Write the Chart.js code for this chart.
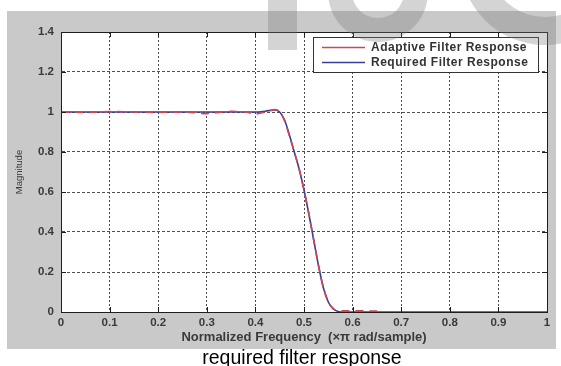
<!DOCTYPE html>
<html>
<head>
<meta charset="utf-8">
<title>required filter response</title>
<script src="https://cdn.jsdelivr.net/npm/chart.js@4.4.1/dist/chart.umd.min.js"></script>
<style>
  html, body { margin: 0; padding: 0; background: #fff; }
  #wrap { position: relative; width: 561px; height: 366px; }
  #caption {
    position: absolute; left: 0; width: 604px; top: 346px;
    text-align: center; color: #000; line-height: 23px;
    font-size: 19.5px; font-family: "Liberation Sans", Arial, sans-serif;
  }
</style>
</head>
<body>
<div id="wrap">
  <canvas id="resp" width="561" height="366"></canvas>
  <div id="caption">required filter response</div>
</div>
<script>
// ---- data -------------------------------------------------------------
const freq = [0, 0.05, 0.1, 0.15, 0.2, 0.25, 0.3, 0.35, 0.38, 0.4, 0.42, 0.44, 0.45,
  0.46, 0.47, 0.48, 0.49, 0.5, 0.51, 0.52, 0.53, 0.54, 0.55, 0.56, 0.57, 0.58,
  0.6, 0.65, 0.7, 0.8, 0.9, 1.0];
const requiredResp = [1, 1, 1, 1, 1, 1, 1, 1, 1, 1, 1.004, 1.01, 1.0,
  0.96, 0.885, 0.80, 0.715, 0.61, 0.49, 0.36, 0.23, 0.12, 0.05, 0.015, 0.003, 0,
  0, 0, 0, 0, 0, 0];
const adaptiveResp = [1.0, 0.998, 1.002, 1.0, 0.998, 1.0, 0.992, 1.003, 1.0, 0.99, 1.0, 1.012, 1.0,
  0.955, 0.88, 0.80, 0.715, 0.61, 0.49, 0.36, 0.23, 0.12, 0.052, 0.018, 0.006, 0.006,
  0.006, 0.005, null, null, null, null];
const seriesNames = ['Adaptive Filter Response', 'Required Filter Response'];
const seriesColors = ['#cf4650', '#3c3c96'];
const xTicks = [0, 0.1, 0.2, 0.3, 0.4, 0.5, 0.6, 0.7, 0.8, 0.9, 1];
const yTicks = [0, 0.2, 0.4, 0.6, 0.8, 1, 1.2, 1.4];

const toPoints = vals => vals.map((v, i) => ({ x: freq[i], y: v }));
const fmt = v => String(+v.toFixed(1));
const tickFont = { family: "'Liberation Sans', Arial, sans-serif", size: 11.5, weight: 'bold' };

// grey figure panel + faint page mark behind the top edge
const panel = {
  id: 'panel',
  beforeDraw(chart) {
    const ctx = chart.ctx;
    ctx.save();
    ctx.fillStyle = '#c9c9c9';
    ctx.fillRect(7, 11, 549, 338);
    ctx.fillStyle = '#ffffff';
    const a = chart.chartArea;
    ctx.fillRect(a.left, a.top, a.right - a.left, a.bottom - a.top);
    ctx.restore();
  },
  afterDraw(chart) {
    const ctx = chart.ctx;
    ctx.save();
    ctx.beginPath();
    ctx.rect(0, 0, 561, 50);
    ctx.clip();
    ctx.fillStyle = 'rgba(120,120,120,0.32)';
    ctx.fillRect(268, 0, 29, 50);
    ctx.beginPath();
    ctx.arc(378, -8, 50, 0, Math.PI * 2);
    ctx.arc(378, -8, 26, 0, Math.PI * 2, true);
    ctx.fill();
    ctx.beginPath();
    ctx.arc(545, -40, 85, Math.PI * 0.1, Math.PI * 1.1);
    ctx.arc(545, -40, 57, Math.PI * 1.1, Math.PI * 0.1, true);
    ctx.closePath();
    ctx.fill();
    ctx.restore();
  }
};

// axes box with inward ticks on all four sides, plus the legend box
const frame = {
  id: 'frame',
  afterDatasetsDraw(chart) {
    const ctx = chart.ctx;
    const a = chart.chartArea;
    const xs = chart.scales.x, ys = chart.scales.y;
    ctx.save();
    ctx.strokeStyle = '#1e1e1e';
    ctx.lineWidth = 1;
    ctx.strokeRect(Math.round(a.left) + 0.5, Math.round(a.top) + 0.5,
      Math.round(a.right - a.left), Math.round(a.bottom - a.top));
    ctx.beginPath();
    xTicks.forEach(t => {
      const px = Math.round(xs.getPixelForValue(t)) + 0.5;
      ctx.moveTo(px, a.bottom); ctx.lineTo(px, a.bottom - 5);
      ctx.moveTo(px, a.top); ctx.lineTo(px, a.top + 5);
    });
    yTicks.forEach(t => {
      const py = Math.round(ys.getPixelForValue(t)) + 0.5;
      ctx.moveTo(a.left, py); ctx.lineTo(a.left + 5, py);
      ctx.moveTo(a.right, py); ctx.lineTo(a.right - 5, py);
    });
    ctx.stroke();

    // legend
    ctx.fillStyle = '#ffffff';
    ctx.fillRect(313, 37, 225, 35);
    ctx.strokeStyle = '#333333';
    ctx.strokeRect(313.5, 37.5, 225, 35);
    ctx.font = "bold 12px 'Liberation Sans', Arial, sans-serif";
    ctx.letterSpacing = '0.5px';
    ctx.textBaseline = 'middle';
    seriesNames.forEach((name, i) => {
      const y = 47.5 + i * 15;
      ctx.strokeStyle = seriesColors[i];
      ctx.lineWidth = 1.5;
      ctx.beginPath();
      ctx.moveTo(322, y); ctx.lineTo(365, y);
      ctx.stroke();
      ctx.fillStyle = '#333333';
      ctx.fillText(name, 371, y);
    });
    ctx.restore();
  }
};

new Chart(document.getElementById('resp'), {
  type: 'line',
  data: {
    datasets: [
      {
        label: seriesNames[0],
        data: toPoints(adaptiveResp),
        borderColor: seriesColors[0],
        borderWidth: 1.6,
        borderDash: [8, 6],
        pointRadius: 0,
        cubicInterpolationMode: 'monotone',
        order: 0
      },
      {
        label: seriesNames[1],
        data: toPoints(requiredResp),
        borderColor: seriesColors[1],
        borderWidth: 1.6,
        pointRadius: 0,
        cubicInterpolationMode: 'monotone',
        order: 1
      }
    ]
  },
  options: {
    responsive: false,
    animation: false,
    events: [],
    layout: { padding: { top: 32, right: 14, left: 0, bottom: 0 } },
    plugins: { legend: { display: false }, tooltip: { enabled: false } },
    scales: {
      x: {
        type: 'linear',
        min: xTicks[0],
        max: xTicks[xTicks.length - 1],
        afterFit: s => { s.height = 54; },
        afterBuildTicks: s => { s.ticks = xTicks.map(v => ({ value: v })); },
        ticks: { callback: fmt, font: tickFont, color: '#3a3a3a', padding: 4, maxRotation: 0, autoSkip: false },
        grid: { color: '#4a4a4a', drawTicks: false },
        border: { color: '#1e1e1e', width: 1, dash: [2, 2] },
        title: {
          display: true,
          text: 'Normalized Frequency  (\u00d7\u03c0 rad/sample)',
          font: { family: "'Liberation Sans', Arial, sans-serif", size: 13, weight: 'bold' },
          color: '#3a3a3a',
          padding: { top: 0, bottom: 21 }
        }
      },
      y: {
        min: yTicks[0],
        max: yTicks[yTicks.length - 1],
        afterFit: s => { s.width = 61; },
        afterBuildTicks: s => { s.ticks = yTicks.map(v => ({ value: v })); },
        ticks: { callback: fmt, font: tickFont, color: '#3a3a3a', padding: 7, autoSkip: false },
        grid: { color: '#505050', drawTicks: false },
        border: { color: '#1e1e1e', width: 1, dash: [3, 2] },
        title: {
          display: true,
          text: 'Magnitude',
          font: { family: "'Liberation Sans', Arial, sans-serif", size: 9.5 },
          color: '#3a3a3a',
          padding: { top: 14, bottom: 0 }
        }
      }
    }
  },
  plugins: [panel, frame]
});
</script>
</body>
</html>
